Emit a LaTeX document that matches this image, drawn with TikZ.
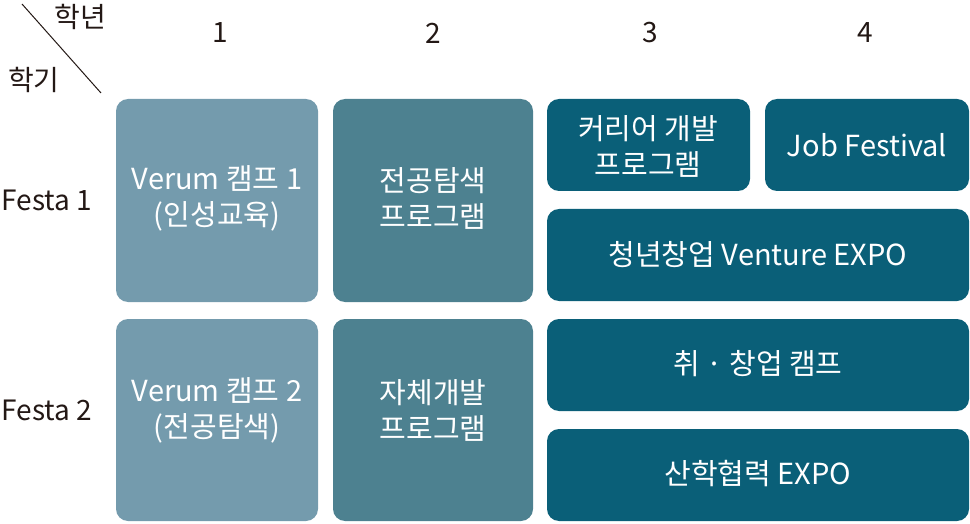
\documentclass[tikz,border=0pt]{standalone}
\usepackage{fontspec}
\setmainfont{Noto Sans CJK KR}
\definecolor{cA}{HTML}{749BAD}
\definecolor{cB}{HTML}{4D8190}
\definecolor{cC}{HTML}{0A5F78}
\definecolor{tx}{HTML}{231815}
\tikzset{cell/.style={rounded corners=12pt,inner sep=0pt},
 lbl/.style={text=white,font=\fontsize{29}{36}\selectfont,align=center},
 hd/.style={text=tx,font=\fontsize{28}{30}\selectfont}}
\begin{document}
\begin{tikzpicture}[x=1pt,y=-1pt]
\useasboundingbox (0,0) rectangle (970,524);
\fill[cA,cell] (116,99) rectangle (318,302);
\fill[cA,cell] (116,319) rectangle (318,521);
\fill[cB,cell] (333,99) rectangle (533,302);
\fill[cB,cell] (333,319) rectangle (533,521);
\fill[cC,cell] (547,99) rectangle (750,191);
\fill[cC,cell] (765,99) rectangle (969,191);
\fill[cC,cell] (547,209) rectangle (969,301);
\fill[cC,cell] (547,319) rectangle (969,411);
\fill[cC,cell] (547,429) rectangle (969,521);
\node[lbl] (a1) at (217,198) {Verum 캠프 1\\(인성교육)};
\node[lbl] (a2) at (217,410) {Verum 캠프 2\\(전공탐색)};
\node[lbl] (b1) at (433,198) {전공탐색\\프로그램};
\node[lbl] (b2) at (433,410) {자체개발\\프로그램};
\node[lbl] (c1) at (648,146) {커리어 개발\\프로그램};
\node[lbl] (d1) at (867,145) {Job Festival};
\node[lbl] (e1) at (758,255) {청년창업 Venture EXPO};
\node[lbl] (e2) at (758,364) {취 · 창업 캠프};
\node[lbl] (e3) at (758,474) {산학협력 EXPO};
\node[hd] (h1) at (220,33) {1};
\node[hd] (h2) at (433,33) {2};
\node[hd] (h3) at (650,33) {3};
\node[hd] (h4) at (865,33) {4};
\node[hd] (hn) at (80,17) {학년};
\node[hd] (hg) at (34,80) {학기};
\node[hd] (f1) at (47,200) {Festa 1};
\node[hd] (f2) at (47,410) {Festa 2};
\coordinate (p) at (22,4);
\coordinate (q) at (101,93);
\draw[tx,line width=1pt] (p) -- (q);
\end{tikzpicture}
\end{document}
